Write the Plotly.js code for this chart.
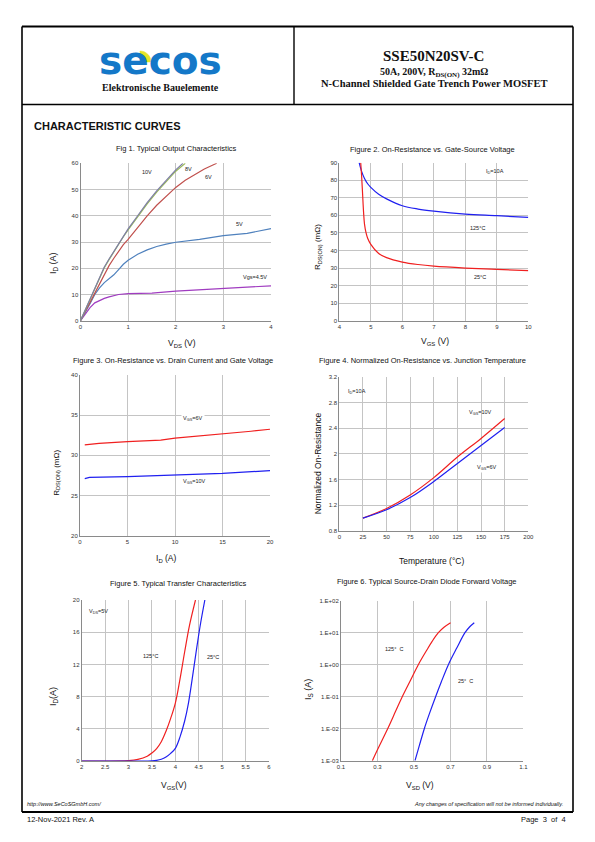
<!DOCTYPE html>
<html><head><meta charset="utf-8">
<script src="https://cdn.plot.ly/plotly-3.0.1.min.js"></script>
<style>html,body{margin:0;padding:0;background:#fff}#c{width:595px;height:842px}</style>
</head><body><div id="c"></div>
<script>
// ---------- DATA ----------
// Fig 1: Typical Output Characteristics (VDS V, ID A)
const f1_v10_x = [0,0.1,0.2,0.3,0.4,0.5,0.6,0.7,0.8,0.9,1.0,1.2,1.4,1.6,1.8,2.0,2.15];
const f1_v10_y = [0,4,8.5,12.5,16.5,20.5,23.5,26.5,29.5,32.5,35,40,45,49.5,53.5,57.5,60];
const f1_v8_x  = [0,0.1,0.2,0.3,0.4,0.5,0.6,0.7,0.8,0.9,1.0,1.2,1.4,1.6,1.8,2.0,2.2];
const f1_v8_y  = [0,4,8.3,12.2,16.2,20.2,23.3,26.3,29.3,32,34.6,39.6,44.5,49,53,57,60];
const f1_v6_x  = [0,0.1,0.2,0.3,0.4,0.5,0.6,0.7,0.8,0.9,1.0,1.2,1.4,1.6,1.8,2.0,2.2,2.4,2.6,2.86];
const f1_v6_y  = [0,3.5,7.5,11,14.5,18,21,23.8,26.5,29,31,35.5,40,44,47.5,50.8,53.5,55.8,57.8,60];
const f1_v5_x  = [0,0.1,0.2,0.3,0.4,0.5,0.6,0.7,0.8,0.9,1.0,1.2,1.4,1.6,1.8,2.0,2.5,3.0,3.5,4.0];
const f1_v5_y  = [0,3,6.5,10,12.5,14.5,16,17.5,19.5,21.5,23,25.3,27,28.3,29.2,29.9,31,32.4,33.3,35.1];
const f1_v45_x = [0,0.1,0.2,0.3,0.4,0.5,0.6,0.7,0.8,1.0,1.5,2.0,2.5,3.0,3.5,4.0];
const f1_v45_y = [0,2.5,5,6.8,7.8,8.5,9.1,9.6,10,10.3,10.5,11.3,11.8,12.3,12.8,13.3];
// Fig 2: On-Resistance vs VGS (VGS V, RDS(on) mOhm)
const f2_t25_x  = [4.68,4.71,4.74,4.77,4.8,4.85,4.9,5.0,5.25,5.5,6,6.5,7,8,9,10];
const f2_t25_y  = [90,82,72,62,55,50,47,43.5,38.3,35.9,33.4,32,31.1,30,29.2,28.5];
const f2_t125_x = [4.63,4.7,4.8,4.9,5.0,5.25,5.5,6,6.5,7,8,9,10];
const f2_t125_y = [90,85.5,81,78,75.9,72,69.4,65.5,63.6,62.4,60.7,59.8,58.8];
// Fig 3: On-Resistance vs ID
const f3_v6_x  = [0.5,2,5,8.5,10,12,15,18,20];
const f3_v6_y  = [31.3,31.5,31.7,31.9,32.15,32.35,32.65,33.0,33.25];
const f3_v10_x = [0.5,1,5,10,15,20];
const f3_v10_y = [27.1,27.25,27.35,27.55,27.75,28.1];
// Fig 4: Normalized On-Resistance vs Temperature
const f4_temp = [25,50,75,100,125,150,175];
const f4_v10  = [1.0,1.15,1.36,1.63,1.95,2.24,2.55];
const f4_v6   = [1.0,1.13,1.32,1.57,1.85,2.13,2.41];
// Fig 5: Transfer characteristics (VGS V, ID A)
const f5_t125_x = [2,3.0,3.2,3.4,3.5,3.6,3.7,3.8,3.9,4.0,4.1,4.2,4.3,4.43];
const f5_t125_y = [0,0.05,0.2,0.6,1.0,1.55,2.4,3.7,5.3,7.2,10.2,13.6,16.8,20];
const f5_t25_x  = [2,3.5,3.6,3.7,3.8,3.9,4.0,4.1,4.2,4.28,4.36,4.44,4.53,4.63];
const f5_t25_y  = [0,0.02,0.08,0.22,0.5,0.95,1.57,3.0,5.0,7.2,10.2,13.4,16.8,20];
// Fig 6: Source-drain diode forward voltage (VSD V, IS A)
const f6_t125_x  = [0.272,0.30,0.356,0.40,0.436,0.48,0.524,0.57,0.60,0.634,0.665,0.701];
const f6_t125_is = [0.001,0.0022,0.01,0.0355,0.1,0.316,1,2.82,5.37,10,14.8,20.5];
const f6_t25_x   = [0.506,0.53,0.557,0.585,0.619,0.65,0.689,0.735,0.78,0.805,0.831];
const f6_t25_is  = [0.001,0.003,0.01,0.0295,0.1,0.288,1,3.31,10,15.1,20.5];
const f6_ticks   = [0.001,0.01,0.1,1,10,100];
const f6_tickText = ["1.E-03","1.E-02","1.E-01","1.E+00","1.E+01","1.E+02"];

// ---------- LAYOUT HELPERS ----------
const W=595,H=842;
const px=x=>x/W, py=y=>1-y/H;
const SANS='Liberation Sans, Arial, sans-serif';
const SERIF='Liberation Serif, Times New Roman, serif';
const RED='#f02020', BLUE='#2020f0';

function tr(x,y,color,xa,ya,shape){
  return {x:x,y:y,type:'scatter',mode:'lines',line:{color:color,width:1.2,shape:shape||'linear'},
    xaxis:xa,yaxis:ya,hoverinfo:'skip',showlegend:false};
}
const traces=[
  tr(f1_v45_x,f1_v45_y,'#a03cc0','x','y'),
  tr(f1_v5_x,f1_v5_y,'#4f81bd','x','y'),
  tr(f1_v6_x,f1_v6_y,'#c0504d','x','y'),
  tr(f1_v8_x,f1_v8_y,'#9bbb59','x','y'),
  tr(f1_v10_x,f1_v10_y,'#7e7ea6','x','y'),
  tr(f2_t125_x,f2_t125_y,BLUE,'x2','y2','spline'),
  tr(f2_t25_x,f2_t25_y,RED,'x2','y2','spline'),
  tr(f3_v6_x,f3_v6_y,RED,'x3','y3'),
  tr(f3_v10_x,f3_v10_y,BLUE,'x3','y3'),
  tr(f4_temp,f4_v10,RED,'x4','y4','spline'),
  tr(f4_temp,f4_v6,BLUE,'x4','y4','spline'),
  tr(f5_t125_x,f5_t125_y,RED,'x5','y5','spline'),
  tr(f5_t25_x,f5_t25_y,BLUE,'x5','y5','spline'),
  tr(f6_t125_x,f6_t125_is,RED,'x6','y6','spline'),
  tr(f6_t25_x,f6_t25_is,BLUE,'x6','y6','spline')
];

function ax(x0,x1,range,dtick,anchor,extra){
  return Object.assign({domain:[x0,x1],range:range,dtick:dtick,anchor:anchor,
    showgrid:true,gridcolor:'#c4c4c4',gridwidth:1,showline:true,linecolor:'#8a8a8a',linewidth:1,
    mirror:false,zeroline:false,ticks:'',tickfont:{family:SANS,size:6,color:'#333'},fixedrange:true},extra||{});
}
const layout={
  width:W,height:H,margin:{l:0,r:0,t:0,b:0},paper_bgcolor:'#fff',plot_bgcolor:'#fff',
  showlegend:false,
  xaxis: ax(px(80.5),px(271),[0,4],1,'y'),
  yaxis: ax(py(320.7),py(163.3),[0,60],10,'x'),
  xaxis2:ax(px(339.3),px(528.3),[4,10],1,'y2'),
  yaxis2:ax(py(320.7),py(162.7),[0,90],10,'x2'),
  xaxis3:ax(px(80),px(270),[0,20],5,'y3'),
  yaxis3:ax(py(535.7),py(375),[20,40],5,'x3'),
  xaxis4:ax(px(339.3),px(528.3),[0,200],25,'y4'),
  yaxis4:ax(py(531),py(376.7),[0.8,3.2],0.4,'x4'),
  xaxis5:ax(px(81.7),px(269),[2,6],0.5,'y5'),
  yaxis5:ax(py(761),py(600),[0,20],4,'x5'),
  xaxis6:ax(px(341),px(523.3),[0.1,1.1],0.2,'y6',{tick0:0.1}),
  yaxis6:ax(py(760.7),py(600.7),[-3,2],null,'x6',{type:'log',tickvals:f6_ticks,ticktext:f6_tickText}),
  shapes:[],annotations:[]
};
// page frame
const S=layout.shapes;
function line(x0,y0,x1,y1,w){S.push({type:'line',xref:'paper',yref:'paper',x0:px(x0),y0:py(y0),x1:px(x1),y1:py(y1),line:{color:'#000',width:w}});}
line(22,26.5,573,26.5,2.2);
line(22,26.5,22,812,1.6);
line(573,26.5,573,812,1.6);
line(22,812,573,812,2);
line(22,104.5,573,104.5,1.4);
line(294,26.5,294,104.5,1.4);
// yellow accent of logo (quarter disc on the "e")
(function(){
  const cx=140, cy=62, r=11, k=0.5523;
  const P=(x,y)=>px(x).toFixed(5)+','+py(y).toFixed(5);
  S.push({type:'path',xref:'paper',yref:'paper',layer:'above',fillcolor:'#e4e428',opacity:1,line:{color:'#e4e428',width:0.5},
    path:'M'+P(cx,cy)+' L'+P(cx,cy-r)+' C'+P(cx+k*r,cy-r)+' '+P(cx+r,cy-k*r)+' '+P(cx+r,cy)+' Z'});
})();

const A=layout.annotations;
function T(text,x,y,size,o){
  A.push(Object.assign({text:text,xref:'paper',yref:'paper',x:px(x),y:py(y),showarrow:false,
    xanchor:'center',yanchor:'middle',font:{family:SANS,size:size,color:'#111'}},o||{}));
}
function L(text,xr,yr,x,y,o){
  A.push(Object.assign({text:text,xref:xr,yref:yr,x:x,y:y,showarrow:false,xanchor:'center',yanchor:'middle',
    font:{family:SANS,size:5.5,color:'#222'}},o||{}));
}
// header
T('secos',160,60.5,39,{font:{family:'DejaVu Sans, sans-serif',size:39,color:'#1478c8',weight:700}});
T('<b>Elektronische Bauelemente</b>',160,87,10,{font:{family:SERIF,size:10,color:'#111'}});
T('<b>SSE50N20SV-C</b>',433.5,56,15,{font:{family:SERIF,size:15,color:'#111'}});
T('<b>50A, 200V, R<sub>DS(ON)</sub> 32mΩ</b>',433.5,72.5,10,{font:{family:SERIF,size:10,color:'#111'}});
T('<b>N-Channel Shielded Gate Trench Power MOSFET</b>',433.5,83.5,10.5,{font:{family:SERIF,size:10.5,color:'#111'}});
T('<b>CHARACTERISTIC CURVES</b>',32,126,11,{xanchor:'left'});
// figure titles
T('Fig 1. Typical Output Characteristics',176,148,7.5);
T('Figure 2. On-Resistance vs. Gate-Source Voltage',432.7,149.3,7.5);
T('Figure 3. On-Resistance vs. Drain Current and Gate Voltage',172.7,360,7.5);
T('Figure 4. Normalized On-Resistance vs. Junction Temperature',422.7,360.7,7.5);
T('Figure 5. Typical Transfer Characteristics',178,583.3,7.5);
T('Figure 6. Typical Source-Drain Diode Forward Voltage',427,581.7,7.5);
// axis titles
const ya={textangle:-90};
T('I<sub>D</sub> (A)',53,263,9,ya);
T('V<sub>DS</sub> (V)',182,343,8.5);
T('R<sub>DS(ON)</sub> (mΩ)',318,247,8,ya);
T('V<sub>GS</sub> (V)',435,341,8.5);
T('R<sub>DS(ON)</sub> (mΩ)',56.7,473,8,ya);
T('I<sub>D</sub> (A)',166,558,8.5);
T('Normalized On-Resistance',318.3,463,8.5,ya);
T('Temperature (°C)',431,561,8.5);
T('I<sub>D</sub>(A)',53,697,9,ya);
T('V<sub>GS</sub>(V)',173.7,785,8.5);
T('I<sub>S</sub> (A)',308,690,9,ya);
T('V<sub>SD</sub> (V)',420,785,8.5);
// in-plot labels
L('10V','x','y',1.39,56.8);
L('8V','x','y',2.27,57.7);
L('6V','x','y',2.69,54.9);
L('5V','x','y',3.33,36.7);
L('Vgs=4.5V','x','y',3.66,16.8);
L('I<sub>D</sub>=10A','x2','y2',8.94,85.2);
L('125°C','x2','y2',8.39,52.6);
L('25°C','x2','y2',8.48,25);
L('V<sub>GS</sub>=6V','x3','y3',11.9,34.6,{bgcolor:'#fff'});
L('V<sub>GS</sub>=10V','x3','y3',12.1,26.7);
L('I<sub>D</sub>=10A','x4','y4',18.3,2.97);
L('V<sub>GS</sub>=10V','x4','y4',148.9,2.64);
L('V<sub>GS</sub>=6V','x4','y4',156,1.78,{bgcolor:'#fff'});
L('V<sub>DS</sub>=5V','x5','y5',2.36,18.55);
L('125°C','x5','y5',3.46,13.0);
L('25°C','x5','y5',4.8,12.9,{bgcolor:'#fff'});
L('125°  C','x6','y6',0.393,0.5);
L('25°  C','x6','y6',0.784,-0.5);
// footer
T('<i>http://www.SeCoSGmbH.com/</i>',25,803.5,5.5,{xanchor:'left'});
T('<i>Any changes of specification will not be informed individually.</i>',565,803.5,5.5,{xanchor:'right'});
T('12-Nov-2021 Rev. A',25,819.5,7.5,{xanchor:'left'});
T('Page  3  of  4',568,819.5,7.5,{xanchor:'right'});

Plotly.newPlot('c',traces,layout,{staticPlot:true,displayModeBar:false});
</script></body></html>
